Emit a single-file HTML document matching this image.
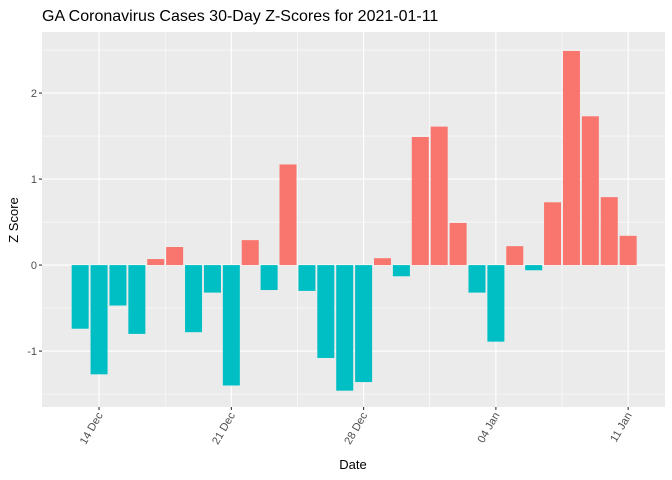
<!DOCTYPE html>
<html><head><meta charset="utf-8"><style>
body{margin:0;background:#fff;}
svg{font-family:"Liberation Sans",Arial,sans-serif;display:block}
</style></head><body>
<svg id="chart" width="672" height="480" xmlns="http://www.w3.org/2000/svg">
<text x="42" y="21" font-size="16" fill="#000">GA Coronavirus Cases 30-Day Z-Scores for 2021-01-11</text>
<rect x="42" y="32" width="623" height="375" fill="#ebebeb"/>
<g id="grid"></g><g id="bars"></g><g id="axes"></g>
<text x="353" y="469" font-size="13" text-anchor="middle" fill="#000">Date</text>
<text transform="translate(18,220) rotate(-90)" font-size="13" text-anchor="middle" fill="#000">Z Score</text>
</svg>
<script>
const days = ["Dec13","Dec14","Dec15","Dec16","Dec17","Dec18","Dec19","Dec20","Dec21","Dec22","Dec23","Dec24","Dec25","Dec26","Dec27","Dec28","Dec29","Dec30","Dec31","Jan01","Jan02","Jan03","Jan04","Jan05","Jan06","Jan07","Jan08","Jan09","Jan10","Jan11"];
const zScores = [-0.74,-1.27,-0.47,-0.80,0.07,0.21,-0.78,-0.32,-1.40,0.29,-0.29,1.17,-0.30,-1.08,-1.46,-1.36,0.08,-0.13,1.49,1.61,0.49,-0.32,-0.89,0.22,-0.06,0.73,2.49,1.73,0.79,0.34];
const xTickLabels = ["14 Dec","21 Dec","28 Dec","04 Jan","11 Jan"];
const xTickDays = [1,8,15,22,29];
const yTicks = [-1,0,1,2];
const yMinor = [-1.5,-0.5,0.5,1.5,2.5];
const NS="http://www.w3.org/2000/svg";
const X0=42,X1=665,Y0=32,Y1=407;
const dMin=-2.02,dMax=30.95,yMin=-1.65,yMax=2.71;
const x=d=>X0+(d-dMin)/(dMax-dMin)*(X1-X0);
const y=v=>Y1-(v-yMin)/(yMax-yMin)*(Y1-Y0);
const grid=document.getElementById('grid'),bars=document.getElementById('bars'),axes=document.getElementById('axes');
function el(t,a,p){const e=document.createElementNS(NS,t);for(const k in a)e.setAttribute(k,a[k]);p.appendChild(e);return e;}
yMinor.forEach(v=>{const l=el('line',{x1:X0,x2:X1,y1:y(v),y2:y(v),stroke:'#fff','stroke-width':0.55},grid);

});
for(let i=0;i<xTickDays.length-1;i++){const d=(xTickDays[i]+xTickDays[i+1])/2;const l=el('line',{x1:x(d),x2:x(d),y1:Y0,y2:Y1,stroke:'#fff','stroke-width':0.55},grid);

}
yTicks.forEach(v=>{const l=el('line',{x1:X0,x2:X1,y1:y(v),y2:y(v),stroke:'#fff','stroke-width':1.1},grid);


const tk=el('line',{x1:X0-3,x2:X0,y1:y(v),y2:y(v),stroke:'#333','stroke-width':1.1},axes);


const t=el('text',{x:X0-5,y:y(v)+4,'font-size':11,'text-anchor':'end',fill:'#4d4d4d'},axes);t.textContent=v;

});
xTickDays.forEach((d,i)=>{const l=el('line',{x1:x(d),x2:x(d),y1:Y0,y2:Y1,stroke:'#fff','stroke-width':1.1},grid);


const tk=el('line',{x1:x(d),x2:x(d),y1:Y1,y2:Y1+3,stroke:'#333','stroke-width':1.1},axes);


const t=el('text',{transform:`translate(${x(d)+4},${Y1+8}) rotate(-60)`,'font-size':11,'text-anchor':'end',fill:'#4d4d4d'},axes);t.textContent=xTickLabels[i];

});
const bw=(x(1)-x(0))*0.9;
zScores.forEach((v,i)=>{const top=Math.min(y(v),y(0)),h=Math.abs(y(v)-y(0));
const r=el('rect',{x:x(i)-bw/2,y:top,width:bw,height:h,fill:v>=0?'#f8766d':'#00bfc4'},bars);

});
</script>
</body></html>
